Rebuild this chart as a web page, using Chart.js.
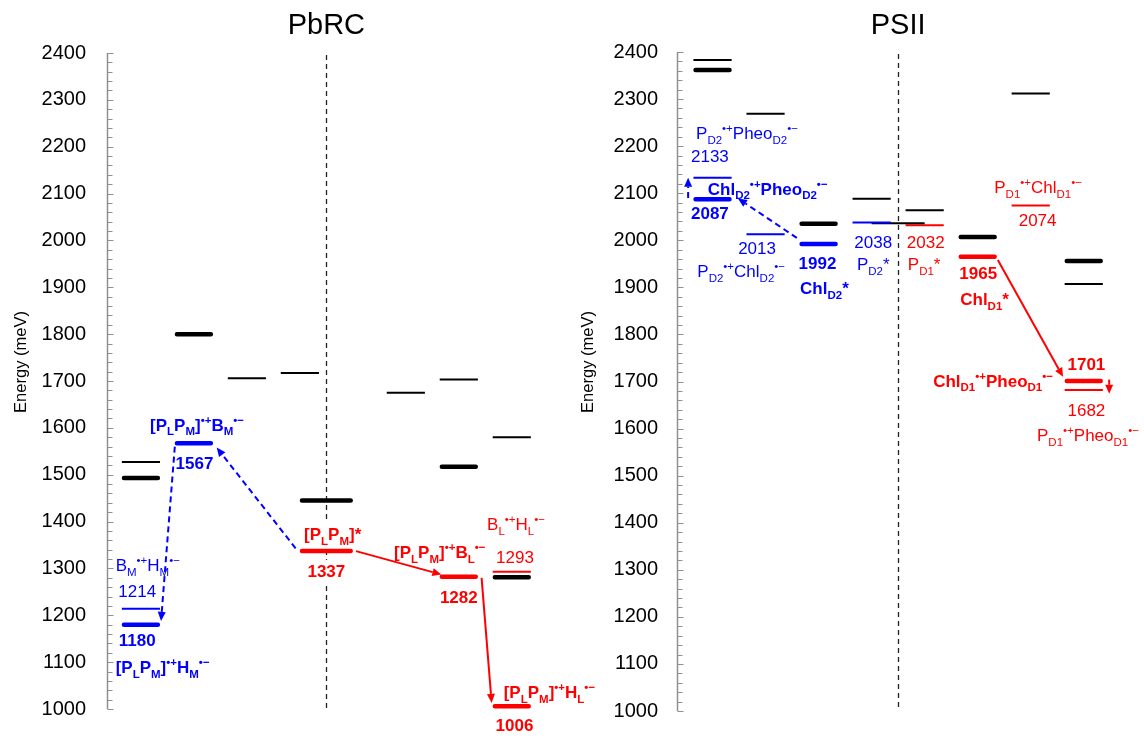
<!DOCTYPE html>
<html>
<head>
<meta charset="utf-8">
<script src="https://cdn.jsdelivr.net/npm/chart.js@4.4.1/dist/chart.umd.min.js"></script>
<style>
  html, body { margin: 0; padding: 0; background: #fff; }
  #wrap { position: relative; width: 1144px; height: 742px; overflow: hidden; }
  canvas { position: absolute; top: 0; }
</style>
</head>
<body>
<div id="wrap">
  <canvas id="psii" width="572" height="742" style="left:572px"></canvas>
  <canvas id="pbrc" width="640" height="742" style="left:0"></canvas>
</div>
<script>
// tick labels of the energy axis (meV)
const yTicks = [1000, 1100, 1200, 1300, 1400, 1500, 1600, 1700, 1800, 1900, 2000, 2100, 2200, 2300, 2400];

// PbRC: column slot of each level and its energy (meV)
const pbrcBlackThinCol = [1, 3, 4, 6, 7, 8];
const pbrcBlackThinE = [1527, 1706, 1717, 1675, 1703, 1580];
const pbrcBlackThickCol = [1, 2, 4.5, 7, 8];
const pbrcBlackThickE = [1493, 1800, 1445, 1517, 1281];
const pbrcBlueThinCol = [1];
const pbrcBlueThinE = [1214];
const pbrcBlueThickCol = [1, 2];
const pbrcBlueThickE = [1180, 1567];
const pbrcRedThinCol = [8];
const pbrcRedThinE = [1293];
const pbrcRedThickCol = [4.5, 7, 8];
const pbrcRedThickE = [1337, 1282, 1006];

// PSII
const psiiBlackThinCol = [1, 2, 4, 4.5, 5, 7, 8];
const psiiBlackThinE = [2383, 2269, 2088, 2036, 2064, 2312, 1907];
const psiiBlackThickCol = [1, 3, 6, 8];
const psiiBlackThickE = [2362, 2035, 2007, 1956];
const psiiBlueThinCol = [1, 2, 4];
const psiiBlueThinE = [2133, 2013, 2038];
const psiiBlueThickCol = [1, 3];
const psiiBlueThickE = [2087, 1992];
const psiiRedThinCol = [5, 7, 8];
const psiiRedThinE = [2032, 2074, 1682];
const psiiRedThickCol = [6, 8];
const psiiRedThickE = [1965, 1701];

// transfer arrows, start and end as [column, energy]
const pbrcArrowFrom = [[1.64, 1560], [3.92, 1343], [5.06, 1337], [7.43, 1280]];
const pbrcArrowTo = [[1.38, 1188], [2.43, 1558], [6.67, 1287], [7.62, 1013]];
const psiiArrowFrom = [[2.59, 2005], [0.54, 2090], [6.38, 1958], [8.48, 1704]];
const psiiArrowTo = [[1.48, 2089], [0.54, 2133], [7.61, 1710], [8.48, 1674]];

const FONT = '"Liberation Sans", Arial, sans-serif';
const BLUE = '#0000ff';
const RED = '#ff0000';

function levelSeries(cols, energies, color, thick) {
  const data = [];
  cols.forEach((c, i) => {
    const w = (c % 1 ? 1.0 : 0.72) - (thick ? 0.08 : 0);
    data.push({ x: c - w / 2, y: energies[i] });
    data.push({ x: c + w / 2, y: energies[i] });
    data.push({ x: c + w / 2, y: null });
  });
  return {
    data: data,
    borderColor: color,
    borderWidth: thick ? 4.5 : 2,
    borderCapStyle: thick ? 'round' : 'butt',
    pointRadius: 0,
    spanGaps: false,
    tension: 0,
    fill: false,
    clip: false
  };
}

// text like "B_{M}^{•+}" -> pieces with sub/superscript flags
function parseRich(s) {
  const parts = [];
  let buf = '';
  let i = 0;
  while (i < s.length) {
    const ch = s[i];
    if ((ch === '_' || ch === '^') && s[i + 1] === '{') {
      if (buf) parts.push({ t: buf, k: 0 });
      buf = '';
      const end = s.indexOf('}', i);
      parts.push({ t: s.slice(i + 2, end), k: ch === '_' ? 1 : -1 });
      i = end + 1;
    } else {
      buf += ch;
      i++;
    }
  }
  if (buf) parts.push({ t: buf, k: 0 });
  return parts;
}

function drawRich(ctx, str, cx, by, lab) {
  const size = 17;
  const small = 11.5;
  const weight = lab.bold ? 'bold ' : '';
  const parts = parseRich(str);
  let total = 0;
  parts.forEach(p => {
    ctx.font = weight + (p.k ? small : size) + 'px ' + FONT;
    p.w = ctx.measureText(p.t).width;
    total += p.w;
  });
  let x = cx - total / 2;
  if (lab.bg) {
    ctx.fillStyle = '#fff';
    ctx.fillRect(x - 2, by - size, total + 4, size + 6);
  }
  ctx.fillStyle = lab.color;
  ctx.textAlign = 'left';
  ctx.textBaseline = 'alphabetic';
  parts.forEach(p => {
    ctx.font = weight + (p.k ? small : size) + 'px ' + FONT;
    const dy = p.k === 1 ? 4.8 : (p.k === -1 ? -7 : 0);
    ctx.fillText(p.t, x, by + dy);
    x += p.w;
  });
}

function drawArrow(ctx, x1, y1, x2, y2, color, dashed) {
  const ang = Math.atan2(y2 - y1, x2 - x1);
  const head = 9, half = 4;
  const bx = x2 - head * Math.cos(ang);
  const by = y2 - head * Math.sin(ang);
  ctx.save();
  ctx.strokeStyle = color;
  ctx.fillStyle = color;
  ctx.lineWidth = 2;
  ctx.setLineDash(dashed ? [6, 4] : []);
  ctx.beginPath();
  ctx.moveTo(x1, y1);
  ctx.lineTo(bx, by);
  ctx.stroke();
  ctx.setLineDash([]);
  ctx.beginPath();
  ctx.moveTo(x2, y2);
  ctx.lineTo(bx + half * Math.sin(ang), by - half * Math.cos(ang));
  ctx.lineTo(bx - half * Math.sin(ang), by + half * Math.cos(ang));
  ctx.closePath();
  ctx.fill();
  ctx.restore();
}

function diagramPlugin(spec) {
  return {
    id: 'diagram',
    beforeDatasetsDraw(chart) {
      const ctx = chart.ctx;
      const xs = chart.scales.x, ys = chart.scales.y;
      // dashed separator through the middle column
      const cx = Math.round(xs.getPixelForValue(4.5)) + 0.5;
      ctx.save();
      ctx.strokeStyle = '#222';
      ctx.lineWidth = 1.3;
      ctx.setLineDash([5, 4]);
      ctx.beginPath();
      ctx.moveTo(cx, ys.getPixelForValue(2400) + 2);
      ctx.lineTo(cx, ys.getPixelForValue(1000));
      ctx.stroke();
      ctx.restore();
    },
    afterDatasetsDraw(chart) {
      const ctx = chart.ctx;
      const xs = chart.scales.x, ys = chart.scales.y;
      const area = chart.chartArea;

      spec.arrowFrom.forEach((from, i) => {
        const to = spec.arrowTo[i];
        const st = spec.arrowStyle[i];
        drawArrow(ctx,
          xs.getPixelForValue(from[0]), ys.getPixelForValue(from[1]),
          xs.getPixelForValue(to[0]), ys.getPixelForValue(to[1]),
          st.color, st.dashed);
      });

      spec.labels.forEach(lab => {
        drawRich(ctx, lab.text, xs.getPixelForValue(lab.x), ys.getPixelForValue(lab.e), lab);
      });

      // axis line with inside ticks every 20 meV
      ctx.save();
      ctx.strokeStyle = '#909090';
      const ax = Math.round(area.left) + 0.5;
      ctx.lineWidth = 1.5;
      ctx.beginPath();
      ctx.moveTo(ax, ys.getPixelForValue(2400));
      ctx.lineTo(ax, ys.getPixelForValue(1000));
      ctx.stroke();
      ctx.lineWidth = 1;
      for (let v = 1000; v <= 2400; v += 20) {
        const py = Math.round(ys.getPixelForValue(v)) + 0.5;
        ctx.beginPath();
        ctx.moveTo(ax, py);
        ctx.lineTo(ax + (v % 100 === 0 ? 6 : 5), py);
        ctx.stroke();
      }
      ctx.restore();

      // panel title and axis title
      ctx.save();
      ctx.fillStyle = '#000';
      ctx.font = '29px ' + FONT;
      ctx.textAlign = 'center';
      ctx.textBaseline = 'alphabetic';
      ctx.fillText(spec.title, xs.getPixelForValue(4.5), 34);
      ctx.translate(spec.yTitleX, 362);
      ctx.rotate(-Math.PI / 2);
      ctx.font = '16.5px ' + FONT;
      ctx.textBaseline = 'middle';
      ctx.fillText('Energy (meV)', 0, 0);
      ctx.restore();
    }
  };
}

function buildChart(id, spec) {
  const canvas = document.getElementById(id);
  const ctx = canvas.getContext('2d');
  return new Chart(ctx, {
    type: 'line',
    data: { datasets: spec.datasets },
    options: {
      responsive: false,
      animation: false,
      events: [],
      layout: { padding: { top: spec.top, bottom: 742 - spec.bottom, left: 0, right: canvas.width - 560 } },
      plugins: {
        legend: { display: false },
        tooltip: { enabled: false }
      },
      scales: {
        x: { type: 'linear', min: spec.xMin, max: 8.91, display: false },
        y: {
          min: 1000,
          max: 2400,
          afterBuildTicks: s => { s.ticks = yTicks.map(v => ({ value: v })); },
          afterFit: s => { s.width = spec.axisWidth; },
          ticks: {
            color: '#000',
            padding: spec.tickPad,
            font: { family: FONT, size: 20 },
            callback: v => String(v)
          },
          grid: { display: false, drawTicks: false },
          border: { display: false }
        }
      }
    },
    plugins: [diagramPlugin(spec)]
  });
}

buildChart('pbrc', {
  title: 'PbRC',
  axisWidth: 107,
  xMin: 0.36,
  top: 53,
  bottom: 718,
  tickPad: 21,
  yTitleX: 21,
  datasets: [
    levelSeries(pbrcBlackThinCol, pbrcBlackThinE, '#000', false),
    levelSeries(pbrcBlackThickCol, pbrcBlackThickE, '#000', true),
    levelSeries(pbrcBlueThinCol, pbrcBlueThinE, BLUE, false),
    levelSeries(pbrcBlueThickCol, pbrcBlueThickE, BLUE, true),
    levelSeries(pbrcRedThinCol, pbrcRedThinE, RED, false),
    levelSeries(pbrcRedThickCol, pbrcRedThickE, RED, true)
  ],
  arrowFrom: pbrcArrowFrom,
  arrowTo: pbrcArrowTo,
  arrowStyle: [
    { color: BLUE, dashed: true },
    { color: BLUE, dashed: true },
    { color: RED, dashed: false },
    { color: RED, dashed: false }
  ],
  labels: [
    { text: '[P_{L}P_{M}]^{•+}B_{M}^{•−}', x: 2.06, e: 1594, color: BLUE, bold: true },
    { text: '1567', x: 2.01, e: 1512, color: BLUE, bold: true },
    { text: 'B_{M}^{•+}H_{M}^{•−}', x: 1.13, e: 1295, color: BLUE, bold: false },
    { text: '1214', x: 0.93, e: 1238, color: BLUE, bold: false },
    { text: '1180', x: 0.93, e: 1135, color: BLUE, bold: true },
    { text: '[P_{L}P_{M}]^{•+}H_{M}^{•−}', x: 1.41, e: 1076, color: BLUE, bold: true },
    { text: '[P_{L}P_{M}]*', x: 4.62, e: 1361, color: RED, bold: true, bg: true },
    { text: '1337', x: 4.5, e: 1282, color: RED, bold: true, bg: true },
    { text: '[P_{L}P_{M}]^{•+}B_{L}^{•−}', x: 6.64, e: 1322, color: RED, bold: true },
    { text: '1282', x: 7.0, e: 1227, color: RED, bold: true },
    { text: 'B_{L}^{•+}H_{L}^{•−}', x: 8.08, e: 1382, color: RED, bold: false },
    { text: '1293', x: 8.06, e: 1312, color: RED, bold: false },
    { text: '[P_{L}P_{M}]^{•+}H_{L}^{•−}', x: 8.71, e: 1024, color: RED, bold: true },
    { text: '1006', x: 8.05, e: 952, color: RED, bold: true }
  ]
});

buildChart('psii', {
  title: 'PSII',
  axisWidth: 105,
  xMin: 0.33,
  top: 52,
  bottom: 718,
  tickPad: 19,
  yTitleX: 16,
  datasets: [
    levelSeries(psiiBlueThinCol, psiiBlueThinE, BLUE, false),
    levelSeries(psiiBlackThinCol, psiiBlackThinE, '#000', false),
    levelSeries(psiiBlackThickCol, psiiBlackThickE, '#000', true),
    levelSeries(psiiBlueThickCol, psiiBlueThickE, BLUE, true),
    levelSeries(psiiRedThinCol, psiiRedThinE, RED, false),
    levelSeries(psiiRedThickCol, psiiRedThickE, RED, true)
  ],
  arrowFrom: psiiArrowFrom,
  arrowTo: psiiArrowTo,
  arrowStyle: [
    { color: BLUE, dashed: true },
    { color: BLUE, dashed: true },
    { color: RED, dashed: false },
    { color: RED, dashed: false }
  ],
  labels: [
    { text: 'P_{D2}^{•+}Pheo_{D2}^{•−}', x: 1.65, e: 2215, color: BLUE, bold: false },
    { text: '2133', x: 0.95, e: 2166, color: BLUE, bold: false },
    { text: 'Chl_{D2}^{•+}Pheo_{D2}^{•−}', x: 2.04, e: 2097, color: BLUE, bold: true },
    { text: '2087', x: 0.95, e: 2045, color: BLUE, bold: true },
    { text: '2013', x: 1.84, e: 1970, color: BLUE, bold: false },
    { text: 'P_{D2}^{•+}Chl_{D2}^{•−}', x: 1.54, e: 1921, color: BLUE, bold: false },
    { text: '1992', x: 2.98, e: 1938, color: BLUE, bold: true },
    { text: 'Chl_{D2}*', x: 3.11, e: 1886, color: BLUE, bold: true },
    { text: '2038', x: 4.03, e: 1984, color: BLUE, bold: false },
    { text: 'P_{D2}*', x: 4.03, e: 1937, color: BLUE, bold: false },
    { text: '2032', x: 5.02, e: 1984, color: RED, bold: false },
    { text: 'P_{D1}*', x: 4.99, e: 1937, color: RED, bold: false },
    { text: '1965', x: 6.01, e: 1917, color: RED, bold: true },
    { text: 'Chl_{D1}*', x: 6.13, e: 1862, color: RED, bold: true },
    { text: 'P_{D1}^{•+}Chl_{D1}^{•−}', x: 7.14, e: 2101, color: RED, bold: false },
    { text: '2074', x: 7.13, e: 2031, color: RED, bold: false },
    { text: '1701', x: 8.05, e: 1725, color: RED, bold: true },
    { text: 'Chl_{D1}^{•+}Pheo_{D1}^{•−}', x: 6.29, e: 1689, color: RED, bold: true },
    { text: '1682', x: 8.05, e: 1626, color: RED, bold: false },
    { text: 'P_{D1}^{•+}Pheo_{D1}^{•−}', x: 8.08, e: 1574, color: RED, bold: false }
  ]
});
</script>
</body>
</html>
